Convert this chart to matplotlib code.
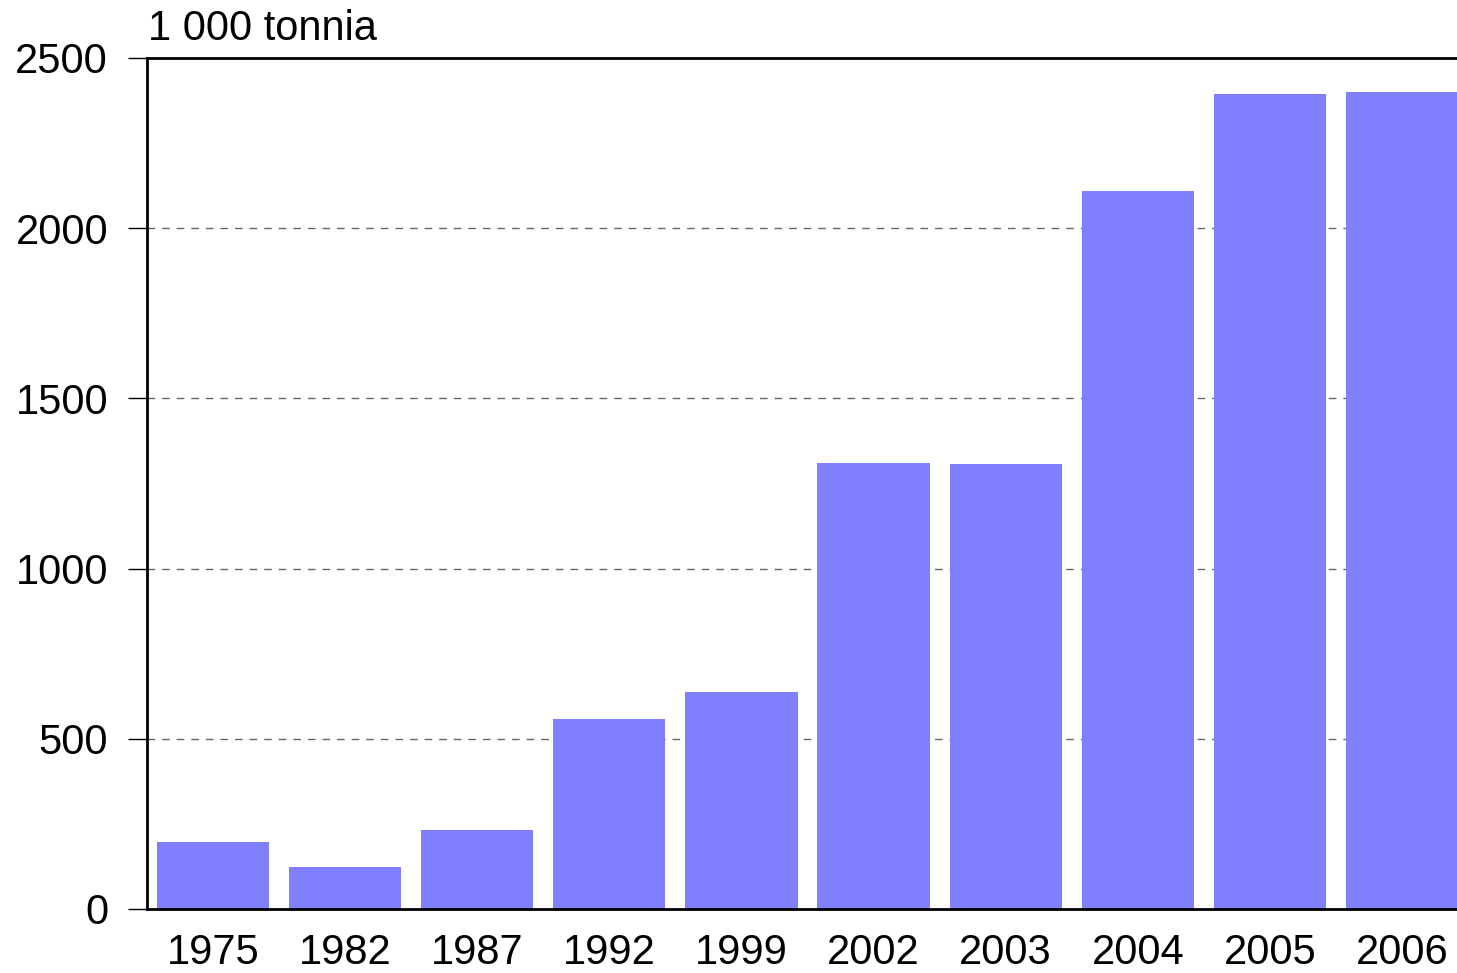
import numpy as np
import matplotlib.pyplot as plt

plt.rcParams['font.family'] = ['Liberation Sans', 'DejaVu Sans']

# Tuotanto vuosittain, 1 000 tonnia
years = ['1975', '1982', '1987', '1992', '1999', '2002', '2003', '2004', '2005', '2006']
values = [197, 123, 232, 558, 637, 1310, 1307, 2109, 2394, 2400]

fig = plt.figure(figsize=(14.57, 9.73), dpi=100)
ax = fig.add_axes([147 / 1457, 64 / 973, 1321 / 1457, 851 / 973])

x = np.arange(len(years))
ax.bar(x, values, width=0.85, color='#8080ff', zorder=2)

ax.set_xlim(-0.5, len(years) - 0.5)
ax.set_ylim(0, 2500)
ax.set_yticks(np.arange(0, 2501, 500))
ax.set_xticks(x)
ax.set_xticklabels(years)

ax.grid(axis='y', linestyle=(0, (5.5, 5)), color='#666666', linewidth=1, zorder=1)
ax.set_axisbelow(True)

for side in ['left', 'bottom', 'top']:
    ax.spines[side].set_linewidth(2)
ax.spines['right'].set_visible(False)

ax.tick_params(axis='y', labelsize=30, length=14, width=1, pad=14)
ax.tick_params(axis='x', labelsize=30, length=0, pad=17)

fig.text(148 / 1457, 1 - 40 / 973, '1 000 tonnia', fontsize=30, ha='left', va='baseline')

fig.savefig('out.png', dpi=100)
